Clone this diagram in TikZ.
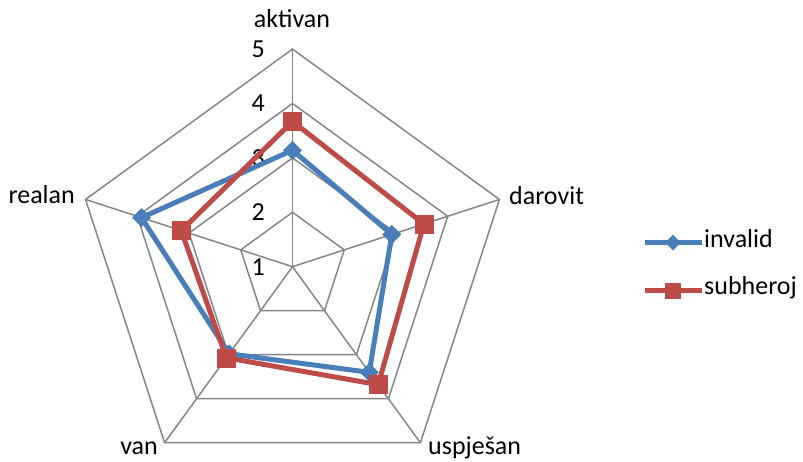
\documentclass[tikz,border=0pt]{standalone}
\usepackage{fontspec}
\setmainfont{Carlito}
\usetikzlibrary{shapes.geometric}
\definecolor{gridgray}{HTML}{868686}
\definecolor{serblue}{HTML}{4A7EBB}
\definecolor{serred}{HTML}{BE4B48}
\tikzset{
  gridline/.style={draw=gridgray, line width=1.5pt},
  blueline/.style={draw=serblue, line width=5pt, line join=round},
  redline/.style={draw=serred, line width=5pt, line join=round},
  diamondmark/.style={diamond, fill=serblue, draw=serblue, line width=0.5pt, inner sep=0pt, minimum size=18pt},
  squaremark/.style={rectangle, fill=serred, draw=serred, line width=0.5pt, inner sep=0pt, minimum size=18pt},
  lbl/.style={inner sep=0pt, text=black},
}
\begin{document}
\begin{tikzpicture}[x=1pt, y=1pt, font=\fontsize{26}{31}\selectfont]
\useasboundingbox (0,0) rectangle (803,462);
\begin{scope}[shift={(292.5,195.3)}]
  % grid
  \foreach \r in {54.4,108.8,163.2,217.6}
    \draw[gridline] (90:\r) -- (18:\r) -- (-54:\r) -- (-126:\r) -- (162:\r) -- cycle;
  \foreach \a in {90,18,-54,-126,162}
    \draw[gridline] (0,0) -- (\a:217.6);
  % tick labels
  \foreach \v in {1,...,5}
    \node[lbl, anchor=east] (t\v) at (-27.5, {(\v-1)*54.4}) {\v};
  % invalid
  \node[diamondmark] (i1) at (90:{(3.14-1)*54.4}) {};
  \node[diamondmark] (i2) at (18:{(2.92-1)*54.4}) {};
  \node[diamondmark] (i3) at (-54:{(3.40-1)*54.4}) {};
  \node[diamondmark] (i4) at (-126:{(2.98-1)*54.4}) {};
  \node[diamondmark] (i5) at (162:{(3.92-1)*54.4}) {};
  \draw[blueline] (i1.center) -- (i2.center) -- (i3.center) -- (i4.center) -- (i5.center) -- cycle;
  \foreach \n in {1,...,5} \node[diamondmark] at (i\n.center) {};
  % subheroj
  \node[squaremark] (s1) at (90:{(3.67-1)*54.4}) {};
  \node[squaremark] (s2) at (18:{(3.54-1)*54.4}) {};
  \node[squaremark] (s3) at (-54:{(3.68-1)*54.4}) {};
  \node[squaremark] (s4) at (-126:{(3.07-1)*54.4}) {};
  \node[squaremark] (s5) at (162:{(3.15-1)*54.4}) {};
  \draw[redline] (s1.center) -- (s2.center) -- (s3.center) -- (s4.center) -- (s5.center) -- cycle;
  \foreach \n in {1,...,5} \node[squaremark] at (s\n.center) {};
\end{scope}
% axis labels
\node[lbl, anchor=base] (la) at (292,434) {aktivan};
\node[lbl, anchor=base west] (ld) at (509,257) {darovit};
\node[lbl, anchor=base west] (lu) at (428,7) {uspješan};
\node[lbl, anchor=base east] (lv) at (158,7) {van};
\node[lbl, anchor=base east] (lr) at (75,258) {realan};
% legend
\coordinate (b1) at (645,219.3);
\coordinate (b2) at (701.7,219.3);
\draw[blueline] (b1) -- (b2);
\node[diamondmark, minimum size=15pt] (bm) at (673,219.3) {};
\node[lbl, anchor=base west] (bl) at (704,214) {invalid};
\coordinate (r1) at (645,171.3);
\coordinate (r2) at (701.7,171.3);
\draw[redline] (r1) -- (r2);
\node[squaremark, minimum size=15pt] (rm) at (673,171.3) {};
\node[lbl, anchor=base west] (rl) at (704,167) {subheroj};
\end{tikzpicture}
\end{document}
